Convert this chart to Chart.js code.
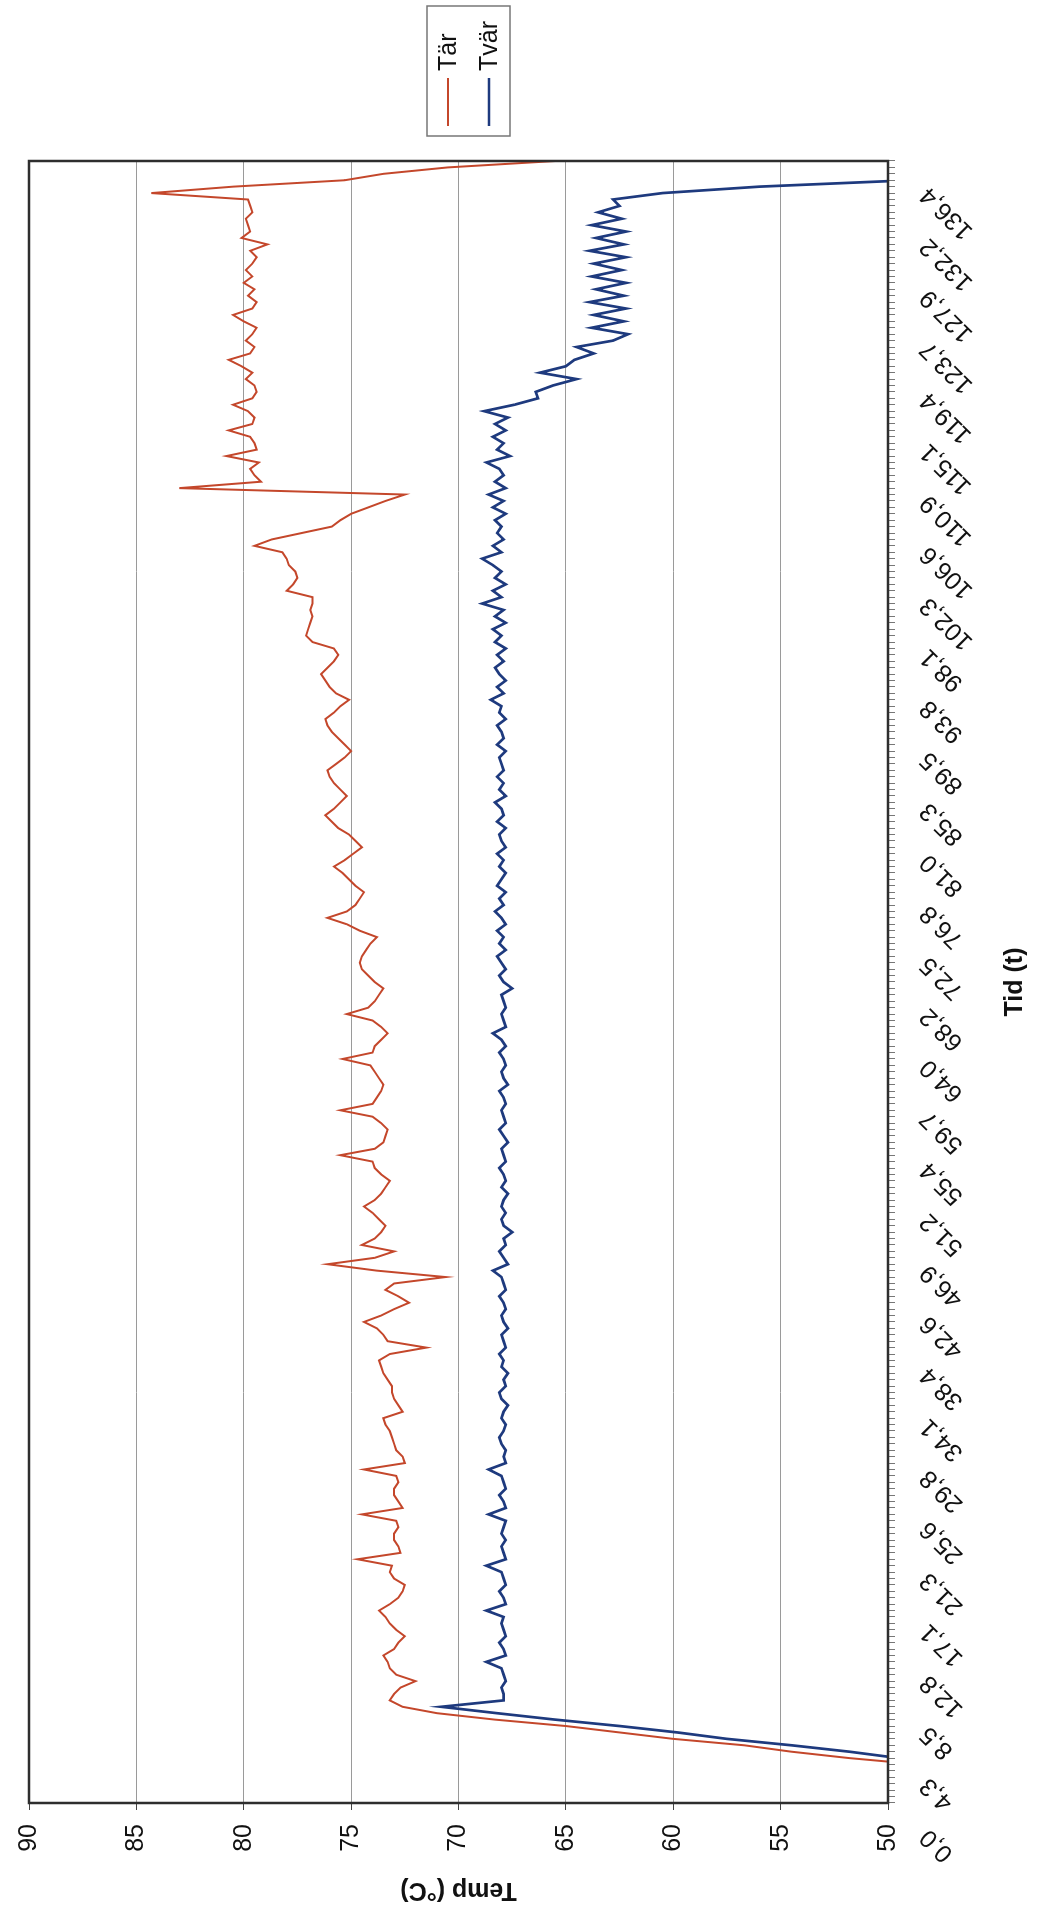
<!DOCTYPE html>
<html>
<head>
<meta charset="utf-8">
<title>Tär / Tvär</title>
<script src="https://cdn.jsdelivr.net/npm/chart.js@4/dist/chart.umd.min.js"></script>
<style>
  html, body { margin: 0; padding: 0; background: #fff; overflow: hidden; }
  body { width: 1038px; height: 1909px; position: relative; }
  /* the scanned chart lies on its side: draw it upright, then turn it */
  #wrap {
    position: absolute; left: 0; top: 0;
    width: 1909px; height: 1038px;
    transform-origin: 0 0;
    transform: translateY(1909px) rotate(-90deg);
  }
</style>
</head>
<body>
<div id="wrap"><canvas id="chart" width="1909" height="1038"></canvas></div>
<script>
// --- data (one point every 8th of a label step) ---
const tickLabels = ['0,0', '4,3', '8,5', '12,8', '17,1', '21,3', '25,6', '29,8', '34,1', '38,4',
    '42,6', '46,9', '51,2', '55,4', '59,7', '64,0', '68,2', '72,5', '76,8', '81,0', '85,3',
    '89,5', '93,8', '98,1', '102,3', '106,6', '110,9', '115,1', '119,4', '123,7', '127,9',
    '132,2', '136,4'];
const pointsPerLabel = 8;

const tarValues = [
    30, 32, 35, 38, 41, 44, 48.5, 51.8,
    54.5, 56.7, 60.0, 62.5, 65.0, 68.3, 71.0, 72.6,
    73.2, 73.0, 72.7, 72.0, 72.9, 73.2, 73.3, 73.5,
    73.0, 72.8, 72.5, 72.9, 73.2, 73.4, 73.7, 73.2,
    72.8, 72.6, 72.5, 73.0, 73.2, 73.1, 74.7, 72.7,
    72.8, 73.0, 73.0, 72.8, 72.9, 74.5, 72.6, 72.8,
    73.0, 73.0, 72.8, 72.9, 74.4, 72.5, 72.6, 72.9,
    73.0, 73.1, 73.2, 73.4, 73.5, 72.6, 72.8, 73.0,
    73.1, 73.1, 73.3, 73.5, 73.6, 73.7, 73.2, 71.5,
    73.3, 73.5, 73.8, 74.4, 73.6, 73.0, 72.3, 72.8,
    73.4, 73.0, 70.6, 73.8, 76.1, 73.9, 73.0, 74.5,
    73.9, 73.6, 73.4, 73.7, 74.0, 74.4, 73.9, 73.6,
    73.4, 73.2, 73.6, 73.9, 74.0, 75.5, 73.9, 73.5,
    73.4, 73.3, 73.6, 74.0, 75.5, 74.0, 73.8, 73.6,
    73.5, 73.7, 73.9, 74.1, 75.4, 74.0, 73.9, 73.6,
    73.3, 73.6, 74.0, 75.2, 74.2, 73.9, 73.7, 73.5,
    73.9, 74.2, 74.5, 74.6, 74.5, 74.3, 74.1, 73.8,
    74.6, 75.2, 76.1, 75.2, 74.8, 74.6, 74.4, 74.8,
    75.1, 75.4, 75.8, 75.3, 74.9, 74.5, 74.8, 75.1,
    75.6, 75.9, 76.2, 75.8, 75.5, 75.2, 75.5, 75.8,
    76.0, 76.1, 75.7, 75.3, 75.0, 75.3, 75.6, 75.9,
    76.1, 76.2, 75.8, 75.5, 75.1, 75.7, 76.0, 76.2,
    76.4, 76.1, 75.8, 75.6, 75.8, 76.8, 77.1, 77.0,
    76.9, 76.8, 76.9, 76.8, 76.8, 78.0, 77.7, 77.5,
    77.6, 77.9, 78.0, 78.2, 79.5, 78.7, 77.3, 75.9,
    75.5, 75.0, 74.2, 73.4, 72.5, 83.0, 79.2, 79.5,
    79.7, 79.3, 80.8, 79.4, 79.5, 79.7, 80.7, 79.6,
    79.5, 79.8, 80.5, 79.6, 79.4, 79.5, 79.9, 79.6,
    80.1, 80.7, 79.7, 79.5, 79.9, 79.6, 79.4, 80.0,
    80.5, 79.6, 79.4, 79.8, 79.5, 80.0, 79.6, 79.9,
    79.6, 79.4, 79.7, 78.9, 80.1, 79.7, 79.8, 79.9,
    79.6, 79.7, 79.8, 84.3, 80.5, 75.3, 73.5, 70.5,
    65.5
];

const tvarValues = [
    30, 32, 35, 38, 41, 44, 47, 49.5,
    51.8, 54.5, 57.5, 59.8, 62.5, 65.5, 68.2, 70.8,
    67.9, 67.9, 68.0, 67.8, 67.9, 68.0, 68.7, 67.8,
    67.9, 68.1, 67.8, 67.9, 68.0, 67.9, 68.7, 67.8,
    67.9, 68.1, 67.8, 67.9, 68.0, 68.7, 67.8, 67.9,
    68.0, 67.8, 68.0, 67.9, 67.8, 68.6, 67.8, 67.9,
    68.1, 67.8, 67.9, 68.0, 68.6, 67.8, 67.9, 67.8,
    68.0, 68.1, 67.9, 67.8, 68.0, 67.9, 67.7, 68.0,
    68.1, 67.8, 67.9, 67.7, 68.0, 67.9, 68.1, 67.8,
    67.9, 68.0, 67.7, 67.9, 68.0, 67.8, 67.9, 68.1,
    67.8, 67.9, 68.0, 68.4, 67.7, 67.9, 68.1, 67.8,
    67.9, 67.5, 67.9, 68.0, 67.8, 68.0, 67.9, 67.7,
    68.0, 67.8, 67.9, 68.1, 67.8, 67.9, 68.0, 67.7,
    67.9, 68.1, 67.8, 67.9, 68.0, 67.8, 67.9, 68.1,
    67.7, 67.9, 68.0, 67.8, 67.9, 68.1, 67.8, 68.0,
    68.4, 67.8, 67.9, 68.0, 67.8, 67.9, 68.0, 67.5,
    67.9, 68.1, 67.8, 68.0, 68.2, 67.8, 68.1, 67.9,
    68.2, 67.8, 68.0, 68.3, 67.9, 68.1, 67.8, 68.2,
    68.0, 67.8, 68.1, 67.9, 68.2, 67.8, 68.0, 68.1,
    67.8, 68.2, 67.9, 68.0, 68.3, 67.8, 68.1, 67.9,
    68.2, 67.9, 68.0, 68.1, 67.8, 68.2, 67.9, 68.0,
    68.2, 67.8, 68.1, 68.0, 68.5, 67.9, 68.2, 67.8,
    68.1, 68.3, 67.9, 68.2, 67.8, 68.3, 68.0, 68.4,
    67.8, 68.3, 67.9, 68.9, 68.0, 68.4, 67.8, 68.3,
    68.0, 68.4, 68.9, 68.0, 68.4, 67.9, 68.2, 68.0,
    68.3, 67.8, 68.4, 67.9, 68.6, 67.8, 68.3, 67.9,
    68.1, 68.7, 67.6, 68.2, 67.9, 68.4, 67.8, 68.3,
    67.7, 68.8, 67.4, 66.3, 66.4, 65.6, 64.5, 66.2,
    65.0, 64.6, 63.7, 64.5, 62.8, 62.1, 63.8, 62.3,
    63.7, 62.2, 63.9, 62.3, 63.6, 62.2, 63.8, 62.4,
    63.7, 62.2, 63.9, 62.3, 63.6, 62.2, 63.8, 62.4,
    63.5, 62.5, 62.8, 60.5, 56.0, 49.0, 45, 42,
    40
];

// category labels: only every 8th point carries a tick label
const categories = tarValues.map((v, i) =>
    i % pointsPerLabel === 0 ? tickLabels[i / pointsPerLabel] : '');

const FONT = "'Liberation Sans', Arial, sans-serif";

// plot frame + boxed legend, like the Excel original
const frameAndLegend = {
    id: 'frameAndLegend',
    afterDatasetsDraw(chart) {
        const { ctx, chartArea: a } = chart;
        ctx.save();
        ctx.strokeStyle = '#2e2e2e';
        ctx.lineWidth = 2.5;
        ctx.strokeRect(a.left, a.top, a.right - a.left, a.bottom - a.top);
        ctx.restore();
    },
    afterDraw(chart) {
        const ctx = chart.ctx;
        const boxX = 1773, boxY = 427, boxW = 130, boxH = 83;
        ctx.save();
        ctx.strokeStyle = '#777';
        ctx.lineWidth = 1.5;
        ctx.strokeRect(boxX, boxY, boxW, boxH);
        ctx.font = '25px ' + FONT;
        ctx.textBaseline = 'middle';
        ctx.fillStyle = '#111';
        chart.data.datasets.forEach((ds, i) => {
            const y = boxY + 21 + i * 41;
            ctx.strokeStyle = ds.borderColor;
            ctx.lineWidth = ds.borderWidth;
            ctx.beginPath();
            ctx.moveTo(boxX + 10, y);
            ctx.lineTo(boxX + 58, y);
            ctx.stroke();
            ctx.fillText(ds.label, boxX + 65, y + 1);
        });
        ctx.restore();
    }
};

new Chart(document.getElementById('chart'), {
    type: 'line',
    data: {
        labels: categories,
        datasets: [{
            label: 'Tär',
            data: tarValues,
            borderColor: '#c4472b',
            borderWidth: 2,
            pointRadius: 0,
            tension: 0,
            clip: 0
        }, {
            label: 'Tvär',
            data: tvarValues,
            borderColor: '#1e3a7e',
            borderWidth: 2.7,
            pointRadius: 0,
            tension: 0,
            clip: 0
        }]
    },
    options: {
        responsive: false,
        animation: false,
        events: [],
        layout: { padding: { left: 0, right: 161, top: 23, bottom: 0 } },
        plugins: {
            legend: { display: false },
            tooltip: { enabled: false }
        },
        scales: {
            x: {
                type: 'category',
                offset: false,
                border: { display: false },
                grid: {
                    drawOnChartArea: false,
                    tickLength: 7,
                    tickColor: '#777',
                    lineWidth: 1
                },
                ticks: {
                    autoSkip: false,
                    minRotation: 45,
                    maxRotation: 45,
                    padding: 19,
                    labelOffset: -30,
                    color: '#111',
                    font: { family: FONT, size: 25 }
                },
                title: {
                    display: true,
                    text: 'Tid (t)',
                    color: '#111',
                    font: { family: FONT, size: 25, weight: 'bold' },
                    padding: { top: 0, bottom: 8 }
                },
                afterFit(scale) { scale.height = 150; }
            },
            y: {
                min: 50,
                max: 90,
                border: { display: false },
                grid: {
                    color: '#9a9a9a',
                    lineWidth: 1,
                    tickLength: 7,
                    tickColor: '#444'
                },
                ticks: {
                    stepSize: 5,
                    padding: 14,
                    color: '#111',
                    font: { family: FONT, size: 25 }
                },
                title: {
                    display: true,
                    text: 'Temp (°C)',
                    color: '#111',
                    font: { family: FONT, size: 25, weight: 'bold' },
                    padding: { top: 4, bottom: 0 }
                },
                afterFit(scale) { scale.width = 106; }
            }
        }
    },
    plugins: [frameAndLegend]
});
</script>
</body>
</html>
